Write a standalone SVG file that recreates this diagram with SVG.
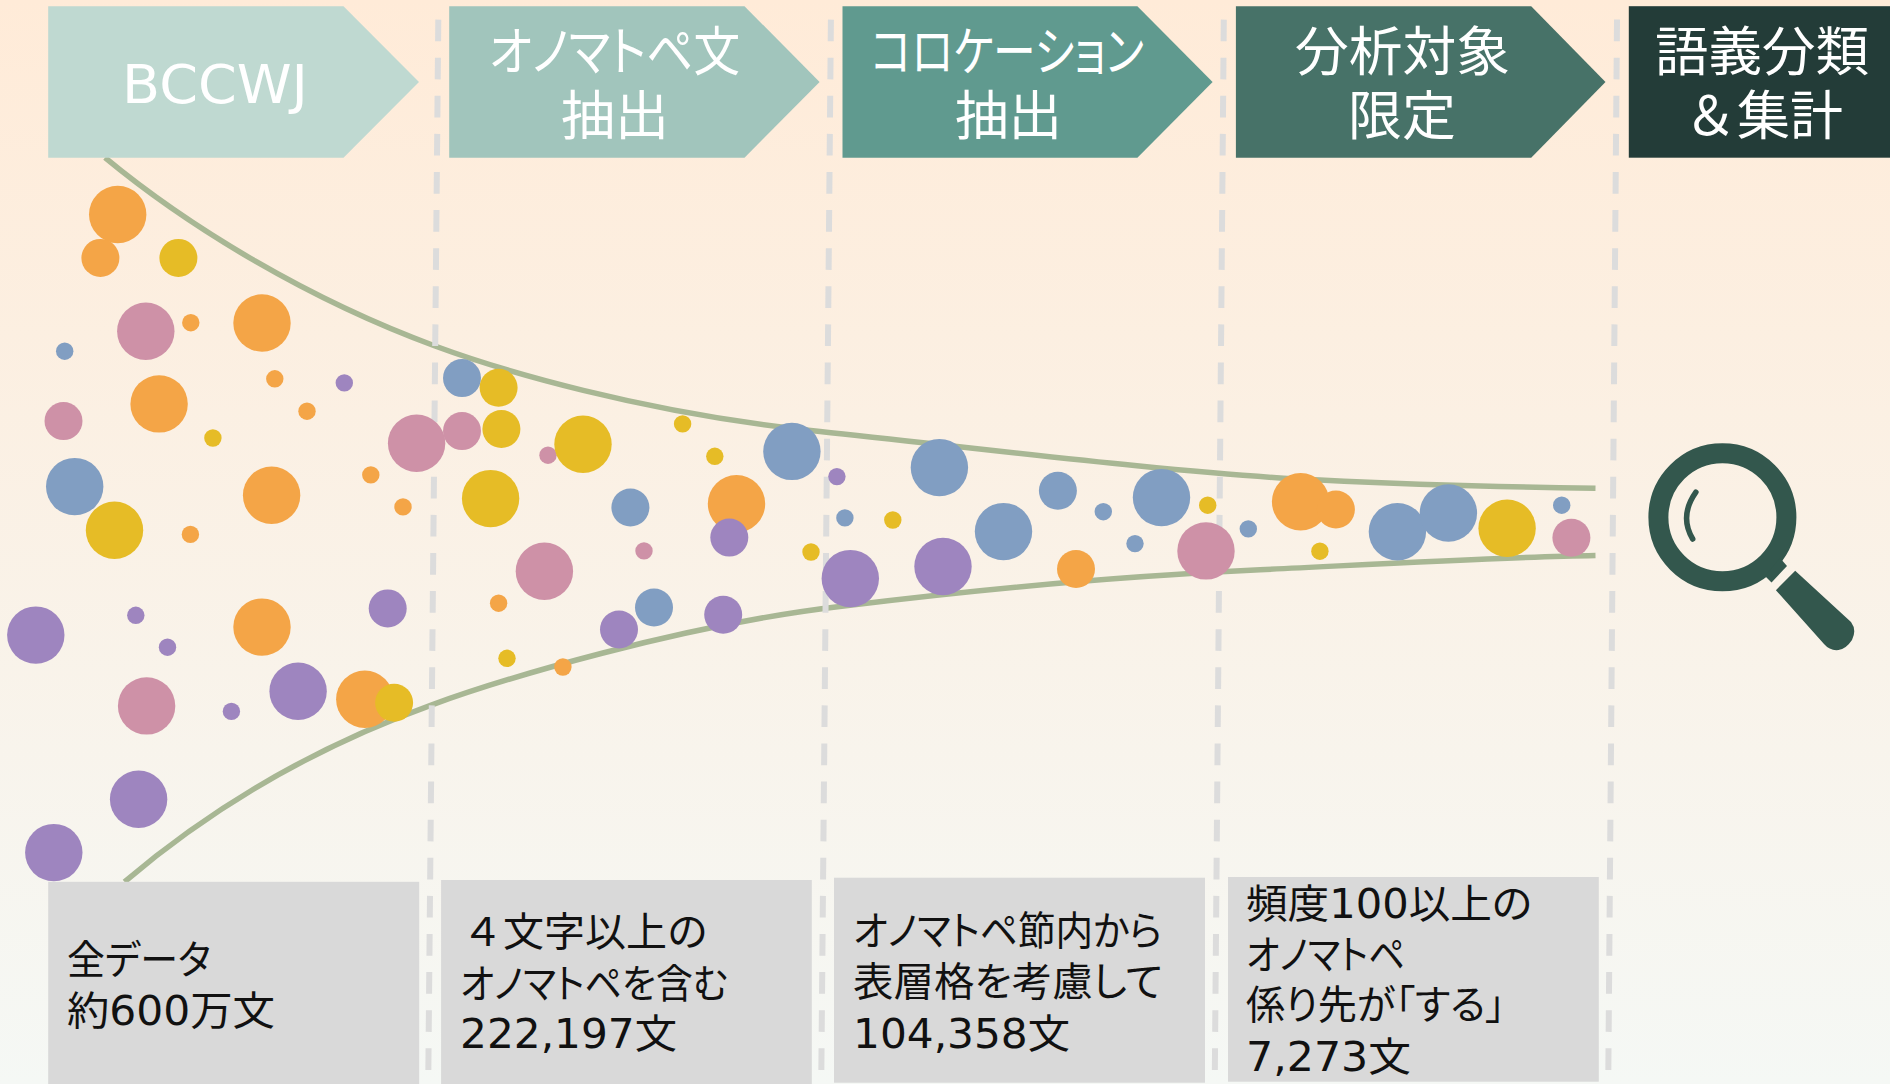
<svg xmlns="http://www.w3.org/2000/svg" width="1890" height="1084" viewBox="0 0 1890 1084">
<style>
text{font-family:"DejaVu Sans","Noto Sans CJK JP",sans-serif;font-feature-settings:"palt";}
.h{font-size:53px;fill:#fff;}
.b{font-size:40px;fill:#111;}
.f{font-feature-settings:normal;}
.box{fill:#d9d9d9;}
.c{fill:none;stroke:#a8b794;stroke-width:5.5;}
.d{fill:none;stroke:#dcdcdc;stroke-width:6;stroke-dasharray:21.7 16.4;}
.o{fill:#f4a547;}.p{fill:#ce91a7;}.u{fill:#819ec2;}.y{fill:#e6bc26;}.v{fill:#9e85bf;}
.m{fill:#33574d;}
</style>
<defs>
<linearGradient id="bg" x1="0" y1="0" x2="0" y2="1">
<stop offset="0" stop-color="#ffebd8"/><stop offset="1" stop-color="#f5f8f5"/>
</linearGradient>
</defs>
<rect width="1890" height="1084" fill="url(#bg)"/>
<g id="connectors">
<path class="c" d="M105,157.7 C190,228 310,300 435,346 C500,370 640,412 810.8,430.4 C950,445 1190,475 1320,480 C1400,484 1500,487 1595.5,488.3"/>
<path class="c" d="M124.5,881.8 C215,805 320,745 431.9,704.8 C500,680 680,625 843.8,606 C950,593 1100,577 1260,569.8 C1380,564 1500,557 1595.5,555.5"/>
<line class="d" x1="438.3" y1="19.6" x2="428.3" y2="1075"/>
<line class="d" x1="830.9" y1="19.6" x2="821.3" y2="1075"/>
<line class="d" x1="1223.8" y1="19.6" x2="1214.8" y2="1075"/>
<line class="d" x1="1617" y1="19.6" x2="1608.3" y2="1075"/>
</g>
<g id="step1">
<polygon fill="#bfd9d1" points="48.2,6.2 343.5,6.2 419,82 343.5,157.7 48.2,157.7"/>
<text class="h" x="122" y="103" textLength="186" lengthAdjust="spacingAndGlyphs">BCCWJ</text>
</g>
<g id="step2">
<polygon fill="#a1c5bc" points="449.2,6.2 744.5,6.2 819.6,82 744.5,157.7 449.2,157.7"/>
<text class="h" x="489" y="71" textLength="251" lengthAdjust="spacingAndGlyphs">オノマトペ文</text>
<text class="h" x="561" y="135" textLength="108" lengthAdjust="spacingAndGlyphs">抽出</text>
</g>
<g id="step3">
<polygon fill="#609a8f" points="842.5,6.2 1137.4,6.2 1212.6,82 1137.4,157.7 842.5,157.7"/>
<text class="h" x="871" y="71" textLength="273" lengthAdjust="spacingAndGlyphs">コロケーション</text>
<text class="h" x="955" y="135" textLength="107" lengthAdjust="spacingAndGlyphs">抽出</text>
</g>
<g id="step4">
<polygon fill="#477268" points="1235.9,6.2 1531.2,6.2 1605.5,82 1531.2,157.7 1235.9,157.7"/>
<text class="h" x="1295" y="71" textLength="215" lengthAdjust="spacingAndGlyphs">分析対象</text>
<text class="h" x="1348" y="135" textLength="108" lengthAdjust="spacingAndGlyphs">限定</text>
</g>
<g id="step5">
<rect fill="#233c38" x="1628.8" y="6.2" width="261.2" height="151.5"/>
<text class="h" x="1655" y="71" textLength="214" lengthAdjust="spacingAndGlyphs">語義分類</text>
<text class="h f" x="1684" y="135" textLength="159" lengthAdjust="spacingAndGlyphs">＆集計</text>
</g>
<g id="note1">
<rect class="box" x="48.2" y="881.8" width="371" height="202.2"/>
<text class="b" x="67" y="974" textLength="144" lengthAdjust="spacingAndGlyphs">全データ</text>
<text class="b" x="67" y="1025" textLength="208" lengthAdjust="spacingAndGlyphs">約600万文</text>
</g>
<g id="note2">
<rect class="box" x="441.1" y="880" width="370.7" height="204"/>
<text class="b f" x="462" y="946" textLength="246" lengthAdjust="spacingAndGlyphs">４文字以上の</text>
<text class="b" x="460" y="998" textLength="268" lengthAdjust="spacingAndGlyphs">オノマトペを含む</text>
<text class="b" x="460" y="1048" textLength="217" lengthAdjust="spacingAndGlyphs">222,197文</text>
</g>
<g id="note3">
<rect class="box" x="834" y="877.7" width="371" height="205"/>
<text class="b" x="853" y="945" textLength="309" lengthAdjust="spacingAndGlyphs">オノマトペ節内から</text>
<text class="b" x="853" y="996" textLength="310" lengthAdjust="spacingAndGlyphs">表層格を考慮して</text>
<text class="b" x="853" y="1048" textLength="217" lengthAdjust="spacingAndGlyphs">104,358文</text>
</g>
<g id="note4">
<rect class="box" x="1228" y="877" width="370.8" height="204.7"/>
<text class="b" x="1246" y="918" textLength="286" lengthAdjust="spacingAndGlyphs">頻度100以上の</text>
<text class="b" x="1246" y="969" textLength="159" lengthAdjust="spacingAndGlyphs">オノマトペ</text>
<text class="b" x="1246" y="1019" textLength="259" lengthAdjust="spacingAndGlyphs">係り先が「する」</text>
<text class="b" x="1246" y="1071" textLength="165" lengthAdjust="spacingAndGlyphs">7,273文</text>
</g>
<g id="bubbles">
<circle class="o" cx="117.7" cy="214.5" r="28.7"/>
<circle class="o" cx="100.4" cy="257.9" r="19"/>
<circle class="y" cx="178.4" cy="257.9" r="19"/>
<circle class="p" cx="145.8" cy="331.3" r="28.7"/>
<circle class="o" cx="190.8" cy="322.7" r="8.7"/>
<circle class="o" cx="262" cy="323" r="28.7"/>
<circle class="u" cx="64.7" cy="351.2" r="8.7"/>
<circle class="o" cx="159.1" cy="403.9" r="28.7"/>
<circle class="o" cx="274.8" cy="378.8" r="8.7"/>
<circle class="v" cx="344.3" cy="382.9" r="8.7"/>
<circle class="o" cx="307" cy="411.2" r="8.7"/>
<circle class="p" cx="63.5" cy="421.1" r="19"/>
<circle class="y" cx="212.9" cy="438" r="8.7"/>
<circle class="u" cx="74.7" cy="486.6" r="28.7"/>
<circle class="y" cx="114.5" cy="530.3" r="28.7"/>
<circle class="o" cx="271.6" cy="495.2" r="28.7"/>
<circle class="o" cx="190.4" cy="534.4" r="8.7"/>
<circle class="p" cx="416.6" cy="443.2" r="28.7"/>
<circle class="o" cx="370.8" cy="474.9" r="8.7"/>
<circle class="o" cx="403" cy="506.9" r="8.7"/>
<circle class="u" cx="462" cy="378.1" r="19"/>
<circle class="y" cx="498.6" cy="387.7" r="19"/>
<circle class="p" cx="462" cy="431.1" r="19"/>
<circle class="y" cx="501.4" cy="429" r="19"/>
<circle class="p" cx="548" cy="455.2" r="8.7"/>
<circle class="y" cx="583" cy="444.2" r="28.7"/>
<circle class="y" cx="490.6" cy="498.6" r="28.7"/>
<circle class="u" cx="630.4" cy="507.5" r="19"/>
<circle class="v" cx="35.8" cy="635.1" r="28.7"/>
<circle class="v" cx="135.8" cy="615.3" r="8.7"/>
<circle class="v" cx="167.5" cy="647.2" r="8.7"/>
<circle class="o" cx="262" cy="627.1" r="28.7"/>
<circle class="v" cx="387.7" cy="608.4" r="19"/>
<circle class="p" cx="146.6" cy="705.9" r="28.7"/>
<circle class="v" cx="231.4" cy="711.4" r="8.7"/>
<circle class="v" cx="298.1" cy="691.3" r="28.7"/>
<circle class="o" cx="364.8" cy="699.3" r="28.7"/>
<circle class="y" cx="394.1" cy="702.7" r="19"/>
<circle class="v" cx="138.6" cy="799.2" r="28.7"/>
<circle class="v" cx="53.8" cy="852.6" r="28.7"/>
<circle class="p" cx="544.4" cy="571.2" r="28.7"/>
<circle class="o" cx="498.6" cy="603.2" r="8.7"/>
<circle class="y" cx="507" cy="658.3" r="8.7"/>
<circle class="o" cx="562.9" cy="667" r="8.7"/>
<circle class="y" cx="682.6" cy="423.9" r="8.7"/>
<circle class="y" cx="714.8" cy="456.3" r="8.7"/>
<circle class="u" cx="791.9" cy="451.4" r="28.7"/>
<circle class="o" cx="736.5" cy="503.8" r="28.7"/>
<circle class="v" cx="729.3" cy="537.6" r="19"/>
<circle class="v" cx="836.9" cy="476.6" r="8.7"/>
<circle class="u" cx="844.9" cy="517.9" r="8.7"/>
<circle class="y" cx="892.8" cy="520" r="8.7"/>
<circle class="u" cx="939.4" cy="467.6" r="28.7"/>
<circle class="u" cx="1057.9" cy="490.7" r="19"/>
<circle class="u" cx="1103.3" cy="511.7" r="8.7"/>
<circle class="u" cx="1161.5" cy="497.6" r="28.7"/>
<circle class="y" cx="1207.7" cy="505.2" r="8.7"/>
<circle class="u" cx="1003.5" cy="531.6" r="28.7"/>
<circle class="p" cx="1206" cy="550.9" r="28.7"/>
<circle class="u" cx="1248.3" cy="528.9" r="8.7"/>
<circle class="u" cx="1135" cy="543.6" r="8.7"/>
<circle class="y" cx="811" cy="552" r="8.7"/>
<circle class="p" cx="644" cy="550.9" r="8.7"/>
<circle class="u" cx="654" cy="607.5" r="19"/>
<circle class="v" cx="619" cy="629.5" r="19"/>
<circle class="v" cx="723.2" cy="614.8" r="19"/>
<circle class="v" cx="850.3" cy="578.6" r="28.7"/>
<circle class="v" cx="943" cy="566.5" r="28.7"/>
<circle class="o" cx="1076" cy="569" r="19"/>
<circle class="o" cx="1300.6" cy="501.7" r="28.7"/>
<circle class="o" cx="1335.9" cy="509.5" r="19"/>
<circle class="y" cx="1319.9" cy="551.2" r="8.7"/>
<circle class="u" cx="1397.4" cy="531.7" r="28.7"/>
<circle class="u" cx="1448.4" cy="513" r="28.7"/>
<circle class="y" cx="1507.1" cy="528.2" r="28.7"/>
<circle class="u" cx="1561.7" cy="505.2" r="8.7"/>
<circle class="p" cx="1571.4" cy="537.7" r="19"/>
</g>
<g id="magnifier">
<circle cx="1722.4" cy="517.3" r="64" fill="none" stroke="#33574d" stroke-width="20"/>
<polygon class="m" points="1780,558 1787,566 1771.5,582.4 1765,576"/>
<path class="m" d="M1795.2,570.7 L1775.9,590.2 L1824,644 Q1830,651 1838.5,650 Q1846,649 1852,640 Q1857,630 1851,622 Z"/>
<path d="M1695.9,492.2 Q1679,516 1692.7,539" fill="none" stroke="#33574d" stroke-width="5.5" stroke-linecap="round"/>
</g>
</svg>
